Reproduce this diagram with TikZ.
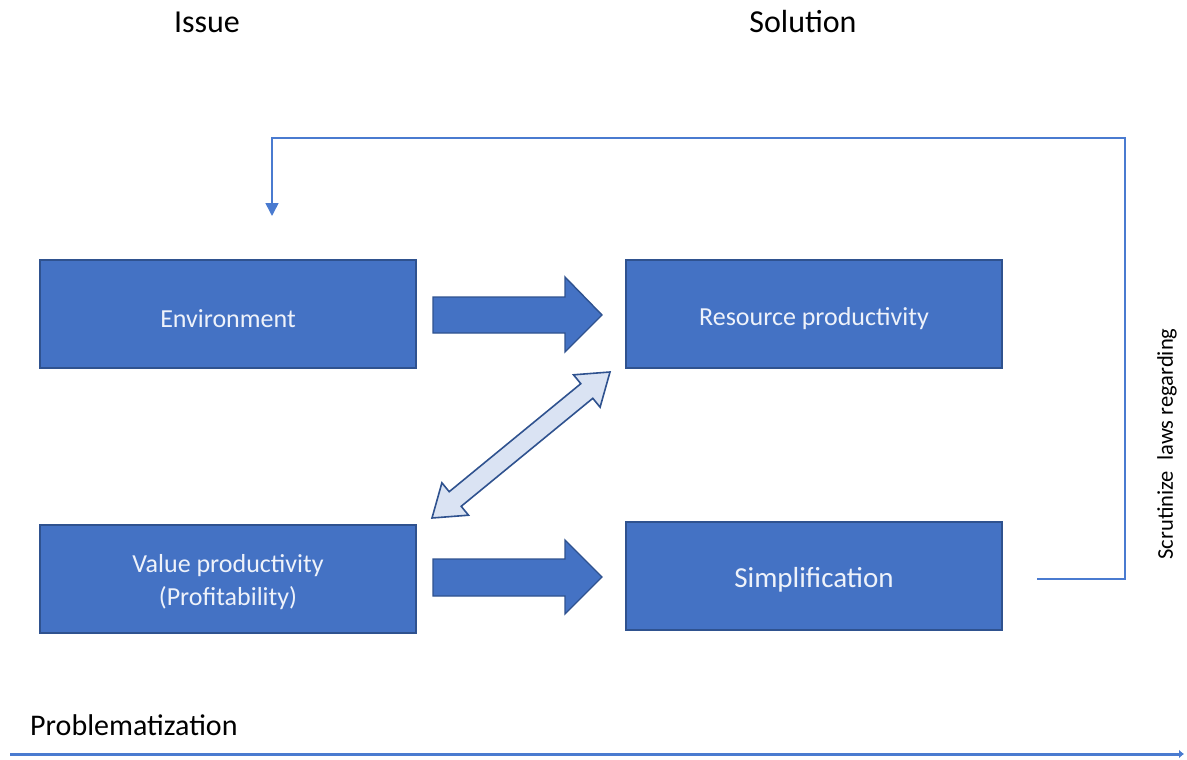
\documentclass[tikz,border=0pt]{standalone}
\usepackage{fontspec}
\setmainfont{Carlito}
\usetikzlibrary{arrows.meta}
\definecolor{boxblue}{HTML}{4472C4}
\definecolor{boxedge}{HTML}{2F528F}
\definecolor{lightfill}{HTML}{DAE3F3}
\definecolor{lineblue}{HTML}{4A7BD0}
\definecolor{boxtext}{HTML}{EEF2FA}
\tikzset{
  box/.style={draw=boxedge, line width=1.6pt, fill=boxblue, minimum width=376pt, minimum height=108pt, inner sep=0pt},
  boxlabel/.style={text=boxtext, inner sep=0pt, align=center, font=\fontsize{26}{33}\selectfont},
  blockarrow/.style={draw=boxedge, line width=1.4pt, fill=boxblue, line join=miter},
  dblarrow/.style={draw=boxedge, line width=1.6pt, fill=lightfill, line join=miter},
  header/.style={font=\fontsize{32}{38}\selectfont, inner sep=0pt},
  feedback/.style={draw=lineblue, line width=1.6pt},
}
\begin{document}
\begin{tikzpicture}[x=1pt,y=-1pt]
\useasboundingbox (0,0) rectangle (1187,760);
% headers
\node[header] (issue) at (207,22) {Issue};
\node[header] (solution) at (803,22) {Solution};
% boxes
\node[box] (env) at (228,314) {};
\node[box] (res) at (814,314) {};
\node[box] (val) at (228,579) {};
\node[box] (sim) at (814,576) {};
\node[boxlabel] (envt) at ([yshift=-5pt]env.center) {Environment};
\node[boxlabel] (rest) at ([yshift=-5pt]res.center) {Resource productivity};
\node[boxlabel] (valt) at ([yshift=-3pt]val.center) {Value productivity\\(Profitability)};
\node[boxlabel, font=\fontsize{29}{35}\selectfont] (simt) at ([yshift=-4pt]sim.center) {Simplification};
% block arrows
\draw[blockarrow] (433,297) -- (565,297) -- (565,277) -- (602,315) -- (565,352) -- (565,333) -- (433,333) -- cycle;
\draw[blockarrow] (433,559) -- (565,559) -- (565,540) -- (602,577) -- (565,614) -- (565,596) -- (433,596) -- cycle;
% double arrow
\draw[dblarrow] (432,518) -- (468.5,515.2) -- (461.2,506.3) -- (592.8,398.3) -- (600.1,407.2) -- (610,372) -- (573.5,374.8) -- (580.8,383.7) -- (449.2,491.7) -- (441.9,482.8) -- cycle;
% feedback loop
\coordinate (fbstart) at (1037,579);
\coordinate (fbend) at (272,216);
\draw[feedback, -{Triangle[length=13pt,width=13pt]}] (fbstart) -- (1125,579) -- (1125,138) -- (272,138) -- (fbend);
\node[rotate=90, font=\fontsize{22.5}{27}\selectfont, inner sep=0pt] (scrut) at (1167,444) {Scrutinize\ \ laws regarding};
% problematization
\node[anchor=west, font=\fontsize{30}{36}\selectfont, inner sep=0pt] (prob) at (30,725) {Problematization};
\coordinate (pl) at (10,754);
\coordinate (pr) at (1184,754);
\draw[draw=lineblue, line width=3pt, -{Latex[length=5pt,width=9pt]}] (pl) -- (pr);
\end{tikzpicture}
\end{document}
